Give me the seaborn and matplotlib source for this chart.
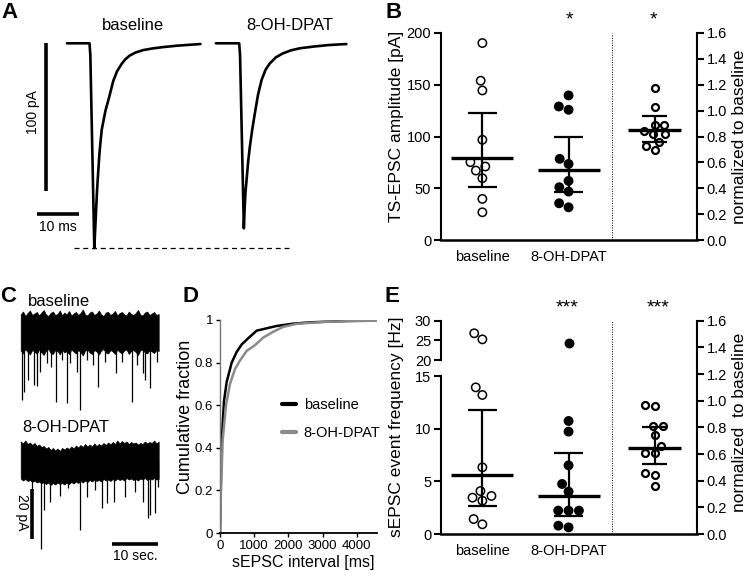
import numpy as np
import pandas as pd
import matplotlib
matplotlib.use("Agg")
import matplotlib.pyplot as plt
import seaborn as sns

# ---------------- data ----------------
conds = ["baseline", "8-OH-DPAT"]

# A: averaged TS-EPSC traces (time in ms, current in pA)
a_base_t = [0, 5.4, 5.6, 6.55, 6.75, 6.95, 7.15, 7.36, 7.8, 8.32, 9.2, 10.14, 11.1, 12.0,
            13.1, 14.0, 15.1, 16.5, 18.3, 20.5, 23.0, 26.5, 32.0]
a_base_i = [0, 0, -8, -139, -127, -115, -103, -92.7, -74, -58.8, -46, -36.2, -25.5, -19,
            -14.0, -10.8, -8.2, -6.2, -4.6, -3.5, -2.6, -1.6, -0.5]
a_dpat_t = [0, 5.59, 5.8, 6.71, 6.9, 7.1, 7.36, 7.75, 8.15, 8.75, 9.35, 10.1, 10.96, 11.9,
            12.95, 14.4, 16.1, 18.0, 20.1, 23.5, 27.0, 31.3]
a_dpat_i = [0, 0, -8, -125.5, -112, -101, -92.7, -80, -70.1, -58, -47.5, -35, -24.9, -18,
            -13.6, -9.5, -6.8, -4.8, -3.4, -2.2, -1.2, -0.5]

# C: continuous sEPSC recordings (s, pA); noise band edges on a 0.5 s grid + event peaks
c_grid = [i * 0.5 for i in range(61)]
c_base_top = [7.0, 8.2, 6.4, 7.6, 8.6, 6.8, 7.4, 8.0, 6.6, 7.8,
              8.8, 7.0, 6.4, 7.6, 8.2, 6.8, 7.2, 8.6, 6.6, 7.8,
              7.0, 8.4, 6.6, 7.4, 8.0, 6.8, 7.6, 9.0, 7.0, 6.6,
              7.8, 8.2, 6.8, 7.4, 8.6, 7.0, 6.4, 7.8, 8.0, 6.8,
              7.4, 8.4, 6.6, 7.6, 8.0, 7.0, 6.6, 8.2, 7.2, 6.8,
              7.6, 8.8, 7.0, 6.6, 7.8, 8.2, 6.8, 7.4, 8.0, 6.8, 7.2]
c_base_bot = [-7.4, -8.6, -6.8, -8.0, -9.0, -7.2, -7.8, -8.8, -7.0, -8.2,
              -9.2, -7.4, -6.8, -8.4, -8.8, -7.2, -7.6, -9.0, -7.0, -8.2,
              -7.6, -8.8, -7.0, -7.8, -8.6, -7.2, -8.0, -9.4, -7.4, -7.0,
              -8.2, -8.8, -7.2, -7.8, -9.0, -7.4, -6.8, -8.2, -8.6, -7.2,
              -7.8, -8.8, -7.0, -8.0, -8.6, -7.4, -7.0, -8.8, -7.6, -7.2,
              -8.0, -9.2, -7.4, -7.0, -8.2, -8.6, -7.2, -7.8, -8.4, -7.2, -7.6]
c_base_evt_t = [0.22, 0.72, 1.65, 2.96, 3.48, 4.2, 5.65, 6.59, 7.61, 8.91, 10.0, 10.72, 12.17, 12.89,
                14.35, 15.78, 16.87, 18.33, 20.72, 21.96, 24.13, 25.22, 26.52, 27.02, 28.11, 29.57]
c_base_evt_i = [-27.2, -23.9, -19.2, -21.2, -21.6, -15.9, -12.4, -13.9, -27.9, -11.2, -28.3, -12.4, -15.9, -31.2,
                -11.2, -13.2, -22.1, -11.9, -16.3, -11.9, -27.9, -13.2, -16.5, -19.2, -22.5, -11.9]
c_dpat_top = [7.8, 7.0, 8.2, 6.8, 7.4, 6.4, 7.2, 6.0, 6.6, 5.6,
              6.0, 5.0, 5.6, 4.4, 5.2, 4.2, 5.0, 4.0, 5.2, 4.6,
              5.4, 4.8, 5.8, 5.0, 6.2, 5.4, 6.4, 5.6, 6.8, 5.8,
              6.6, 5.8, 7.0, 6.0, 6.8, 6.2, 7.2, 6.4, 7.4, 6.6,
              7.6, 6.8, 8.2, 7.0, 8.0, 7.2, 7.8, 6.8, 7.6, 7.0,
              7.4, 6.6, 7.2, 6.8, 7.8, 7.0, 7.6, 7.2, 8.2, 7.0, 7.8]
c_dpat_bot = [-7.0, -7.8, -7.2, -8.0, -7.6, -8.4, -7.8, -8.6, -8.2, -9.0,
              -8.4, -9.2, -8.6, -9.6, -8.8, -9.4, -8.6, -9.2, -8.8, -9.4,
              -8.6, -9.2, -8.4, -9.0, -8.2, -8.8, -8.0, -8.6, -7.8, -8.4,
              -7.6, -8.2, -7.4, -8.0, -7.6, -8.2, -7.2, -7.8, -7.4, -8.0,
              -7.2, -7.8, -7.0, -7.6, -7.2, -7.8, -6.8, -7.4, -7.0, -7.6,
              -7.2, -7.8, -7.0, -7.4, -6.8, -7.6, -7.0, -7.4, -6.8, -7.4, -7.2]
c_dpat_evt_t = [2.39, 4.35, 5.13, 6.37, 8.54, 10.35, 12.89, 14.35, 16.15, 17.6, 18.7, 20.35, 22.67,
                24.85, 26.65, 27.6, 28.1, 29.2, 29.9]
c_dpat_evt_i = [-12.9, -35.2, -19.6, -16.3, -14.0, -10.9, -27.7, -14.3, -11.6, -18.9, -16.8, -16.3, -14.3,
                -12.3, -16.3, -22.9, -21.6, -20.9, -10.3]

# D: cumulative distributions of inter-event intervals
d_base_ms = [0, 20, 50, 117, 196, 342, 487, 634, 829, 1072, 1365, 1657, 2145, 2632, 3606, 4580]
d_base_cf = [0, 0.2, 0.435, 0.62, 0.71, 0.80, 0.85, 0.885, 0.915, 0.95, 0.961, 0.972, 0.983, 0.989, 0.995, 1.0]
d_dpat_ms = [0, 29, 78, 175, 292, 439, 585, 780, 1023, 1267, 1560, 1852, 2242, 3120, 4580]
d_dpat_cf = [0, 0.2, 0.435, 0.60, 0.70, 0.77, 0.81, 0.855, 0.882, 0.918, 0.945, 0.968, 0.982, 0.992, 0.997]

# B: TS-EPSC amplitudes (pA) and normalized ratio
b_base = [190.3, 153.9, 144.5, 96.8, 75.2, 71.0, 67.1, 59.7, 39.7, 26.8]
b_dpat = [139.7, 129.0, 125.8, 78.4, 73.5, 57.1, 51.0, 46.8, 35.5, 31.6]
b_norm = [1.174, 1.027, 0.890, 0.890, 0.846, 0.818, 0.818, 0.761, 0.730, 0.697]
b_med, b_lo, b_hi = [79.4, 67.7], [51.0, 46.1], [122.6, 99.4]
b_norm_stats = (0.852, 0.761, 0.955)

# E: sEPSC frequency (Hz) and normalized ratio
e_base = [26.8, 25.25, 13.92, 13.2, 6.33, 4.08, 3.61, 3.45, 3.16, 1.42, 0.92]
e_dpat = [24.24, 10.73, 9.72, 6.52, 4.75, 4.02, 2.22, 2.22, 2.22, 0.79, 0.63]
e_norm = [0.968, 0.96, 0.81, 0.81, 0.7425, 0.66, 0.61, 0.61, 0.46, 0.4425, 0.3625]
e_med, e_lo, e_hi = [5.6, 3.61], [2.66, 1.71], [11.77, 7.66]
e_norm_stats = (0.6475, 0.5225, 0.805)

# ---------------- style ----------------
sns.set_theme(style="ticks", rc={"axes.edgecolor": "black", "text.color": "black",
                                 "axes.labelcolor": "black", "xtick.color": "black",
                                 "ytick.color": "black"})
plt.rcParams["font.family"] = ["Liberation Sans", "DejaVu Sans"]

W, H = 748, 574
fig = plt.figure(figsize=(W / 100, H / 100), dpi=100)


def rect(x0, y0, x1, y1):
    return [x0 / W, 1 - y1 / H, (x1 - x0) / W, (y1 - y0) / H]


def ftext(x, y, s, **kw):
    fig.text(x / W, 1 - y / H, s, **kw)


fills = {"baseline": "white", "8-OH-DPAT": "black"}
XLIM = (-0.48, 2.49)
TICK_FS = 10.5


def summary_bars(ax, pos, med, lo, hi, half=0.36, cap=0.17):
    ax.hlines(med, pos - half, pos + half, color="black", lw=2.4, zorder=5)
    ax.vlines(pos, lo, hi, color="black", lw=1.6, zorder=5)
    ax.hlines([lo, hi], pos - cap, pos + cap, color="black", lw=1.6, zorder=5)


def right_axis(rc, norm, stats):
    ax = fig.add_axes(rc)
    ax.patch.set_visible(False)
    sns.swarmplot(x=[2.0] * len(norm), y=norm, native_scale=True, color="white",
                  edgecolor="black", linewidth=1.6, size=5, ax=ax)
    summary_bars(ax, 2, *stats, half=0.31, cap=0.145)
    ax.axvline(1.5, color="black", ls=(0, (1, 1.5)), lw=0.7)
    ax.set_xlim(*XLIM)
    ax.set_ylim(0, 1.6)
    ax.set_yticks(np.arange(0, 1.61, 0.2))
    ax.set_yticklabels([f"{v:.1f}" for v in np.arange(0, 1.61, 0.2)])
    ax.yaxis.tick_right()
    ax.set_xticks([])
    for s in ["top", "left", "bottom"]:
        ax.spines[s].set_visible(False)
    ax.spines["right"].set_linewidth(1.5)
    ax.tick_params(axis="y", length=5, width=1.5, labelsize=TICK_FS, pad=2)
    ax.set_xlabel("")
    ax.set_ylabel("")
    return ax


def style_left(ax, bottom=True):
    ax.set_xlim(*XLIM)
    for s in ["top", "right"]:
        ax.spines[s].set_visible(False)
    ax.spines["left"].set_linewidth(1.5)
    ax.spines["bottom"].set_linewidth(1.8)
    ax.tick_params(axis="y", length=5, width=1.5, labelsize=TICK_FS, pad=2)
    ax.tick_params(axis="x", length=0, pad=7, labelsize=TICK_FS)
    ax.set_xlabel("")
    ax.set_ylabel("")
    if not bottom:
        ax.spines["bottom"].set_visible(False)
        ax.set_xticks([])


# ---------------- A ----------------
axA = fig.add_axes(rect(30, 20, 370, 260))
axA.set_xlim(-8.87, 72.66)
axA.set_ylim(-147.0, 15.8)
axA.axis("off")
sns.lineplot(x=a_base_t, y=a_base_i, color="black", lw=1.9, estimator=None, ax=axA)
sns.lineplot(x=np.add(a_dpat_t, 35.7), y=a_dpat_i, color="black", lw=1.9, estimator=None, ax=axA)
axA.plot([1.7, 53.5], [min(a_base_i)] * 2, color="black", lw=0.9, ls=(0, (4, 3)))
axA.plot([-5.04, -5.04], [0, -100], color="black", lw=2.6, solid_capstyle="butt")
axA.plot([-7.1, 2.9], [-115.8, -115.8], color="black", lw=2.6, solid_capstyle="butt")
ftext(133, 25, "baseline", ha="center", va="center", fontsize=12)
ftext(290, 25, "8-OH-DPAT", ha="center", va="center", fontsize=12)
ftext(33, 112, "100 pA", ha="center", va="center", rotation=90, fontsize=10)
ftext(58, 227, "10 ms", ha="center", va="center", fontsize=10)

# ---------------- C ----------------
axC = fig.add_axes(rect(10, 290, 170, 565))
axC.set_xlim(-2.33, 32.46)
axC.set_ylim(-93.2, 16.8)
axC.axis("off")
off = -51.6
axC.fill_between(c_grid, c_base_top, c_base_bot, color="black", lw=0.5)
axC.vlines(c_base_evt_t, 0, c_base_evt_i, color="black", lw=0.9)
axC.fill_between(c_grid, np.add(c_dpat_top, off), np.add(c_dpat_bot, off), color="black", lw=0.5)
axC.vlines(c_dpat_evt_t, off, np.add(c_dpat_evt_i, off), color="black", lw=0.9)
axC.plot([2.52, 2.52], [-62.8, -82.8], color="black", lw=2.6, solid_capstyle="butt")
axC.plot([19.9, 29.9], [-84.8, -84.8], color="black", lw=2.6, solid_capstyle="butt")
ftext(28, 301, "baseline", ha="left", va="center", fontsize=12)
ftext(22, 428, "8-OH-DPAT", ha="left", va="center", fontsize=12)
ftext(22, 512, "20 pA", ha="center", va="center", rotation=270, fontsize=10)
ftext(135, 556, "10 sec.", ha="center", va="center", fontsize=10)

# ---------------- D ----------------
axD = fig.add_axes(rect(220, 320, 377, 533))
d_df = pd.DataFrame({
    "interval": d_base_ms + d_dpat_ms,
    "cf": d_base_cf + d_dpat_cf,
    "cond": ["baseline"] * len(d_base_ms) + ["8-OH-DPAT"] * len(d_dpat_ms),
})
sns.lineplot(data=d_df, x="interval", y="cf", hue="cond", hue_order=conds,
             palette={"baseline": "black", "8-OH-DPAT": "#8a8a8a"}, lw=1.8,
             estimator=None, ax=axD)
axD.set_xlim(0, 4590)
axD.set_ylim(0, 1)
axD.set_xticks([0, 1000, 2000, 3000, 4000])
axD.set_yticks([0, 0.2, 0.4, 0.6, 0.8, 1])
axD.set_yticklabels(["0", "0.2", "0.4", "0.6", "0.8", "1"])
for s in ["top", "right"]:
    axD.spines[s].set_visible(False)
axD.spines["left"].set_color("#777777")
axD.spines["left"].set_linewidth(1.0)
axD.spines["bottom"].set_linewidth(1.3)
axD.tick_params(length=3, width=1, labelsize=9.5, pad=2)
axD.set_xlabel("")
axD.set_ylabel("")
leg = axD.legend(frameon=False, loc="center left", bbox_to_anchor=(0.31, 0.535),
                 fontsize=10.5, handlelength=1.0, handletextpad=0.5, labelspacing=0.9)
for ln in leg.get_lines():
    ln.set_linewidth(3)
ftext(185, 417, "Cumulative fraction", ha="center", va="center", rotation=90, fontsize=13)
ftext(303, 562, "sEPSC interval [ms]", ha="center", va="center", fontsize=11.5)

# ---------------- B ----------------
rcB = rect(441, 33, 697, 240)
axB = fig.add_axes(rcB)
b_df = pd.DataFrame({"cond": ["baseline"] * len(b_base) + ["8-OH-DPAT"] * len(b_dpat),
                     "amp": b_base + b_dpat})
sns.swarmplot(data=b_df, x="cond", y="amp", hue="cond", order=conds, hue_order=conds,
              palette=fills, edgecolor="black", linewidth=1.1, size=6, legend=False, ax=axB)
for i in range(2):
    summary_bars(axB, i, b_med[i], b_lo[i], b_hi[i])
axB.set_ylim(0, 200)
axB.set_yticks([0, 50, 100, 150, 200])
style_left(axB)
right_axis(rcB, b_norm, b_norm_stats)
ftext(396, 126, "TS-EPSC amplitude [pA]", ha="center", va="center", rotation=90, fontsize=12.5)
ftext(739, 137, "normalized to baseline", ha="center", va="center", rotation=90, fontsize=12.5)
ftext(569, 20, "*", ha="center", va="center", fontsize=14)
ftext(653, 20, "*", ha="center", va="center", fontsize=14)

# ---------------- E (broken left axis) ----------------
e_df = pd.DataFrame({"cond": ["baseline"] * len(e_base) + ["8-OH-DPAT"] * len(e_dpat),
                     "freq": e_base + e_dpat})
axE_lo = fig.add_axes(rect(441, 376, 697, 534))
sns.swarmplot(data=e_df[e_df["freq"] <= 15], x="cond", y="freq", hue="cond", order=conds,
              hue_order=conds, palette=fills, edgecolor="black", linewidth=1.1, size=6,
              legend=False, ax=axE_lo)
for i in range(2):
    summary_bars(axE_lo, i, e_med[i], e_lo[i], e_hi[i])
axE_lo.set_ylim(0, 15)
axE_lo.set_yticks([0, 5, 10, 15])
style_left(axE_lo)

axE_hi = fig.add_axes(rect(441, 320.7, 697, 360))
axE_hi.patch.set_visible(False)
sns.swarmplot(data=e_df[e_df["freq"] > 15], x="cond", y="freq", hue="cond", order=conds,
              hue_order=conds, palette=fills, edgecolor="black", linewidth=1.1, size=6,
              legend=False, ax=axE_hi)
axE_hi.set_ylim(20, 30)
axE_hi.set_yticks([20, 25, 30])
style_left(axE_hi, bottom=False)

right_axis(rect(441, 320.7, 697, 534), e_norm, e_norm_stats)
ftext(396, 427, "sEPSC event frequency [Hz]", ha="center", va="center", rotation=90, fontsize=12.5)
ftext(739, 422, "normalized  to baseline", ha="center", va="center", rotation=90, fontsize=12.5)
ftext(567, 308, "***", ha="center", va="center", fontsize=14)
ftext(658, 308, "***", ha="center", va="center", fontsize=14)

# ---------------- panel letters ----------------
for letter, x, y in [("A", 1, 12), ("B", 386, 12), ("C", 0, 296), ("D", 182, 296), ("E", 385, 296)]:
    ftext(x, y, letter, ha="left", va="center", fontsize=16, fontweight="bold")

fig.savefig("out.png", dpi=100)
